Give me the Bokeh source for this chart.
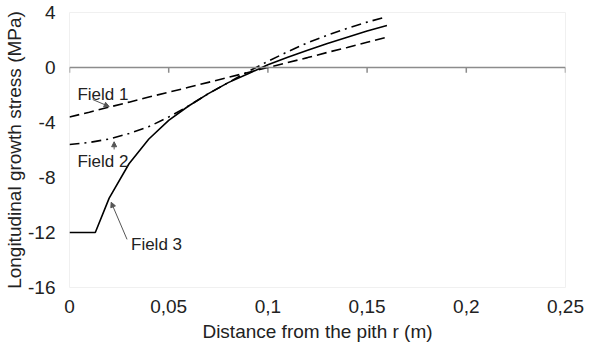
from bokeh.plotting import figure
from bokeh.models import Range1d, FixedTicker, Arrow, NormalHead, Span
from bokeh.core.properties import value
from bokeh.embed import file_html
from bokeh.resources import INLINE

# ---- data ----
r = [0.0, 0.01, 0.02, 0.03, 0.04, 0.05, 0.06, 0.07, 0.08, 0.09, 0.10, 0.11, 0.12, 0.13, 0.14, 0.15, 0.16]
field1 = [-3.6, -3.25, -2.88, -2.52, -2.15, -1.8, -1.44, -1.08, -0.72, -0.36, 0.0, 0.36, 0.72, 1.1, 1.46, 1.83, 2.2]
field2 = [-5.6, -5.45, -5.2, -4.8, -4.3, -3.6, -2.8, -1.9, -1.1, -0.3, 0.45, 1.15, 1.8, 2.35, 2.85, 3.3, 3.7]
r3 = [0.0, 0.013, 0.02, 0.03, 0.04, 0.05, 0.06, 0.07, 0.08, 0.09, 0.10, 0.11, 0.12, 0.13, 0.14, 0.15, 0.16]
field3 = [-12.0, -12.0, -9.5, -7.0, -5.2, -3.85, -2.8, -1.9, -1.1, -0.45, 0.2, 0.75, 1.25, 1.75, 2.2, 2.65, 3.05]

x_ticks = [0, 0.05, 0.1, 0.15, 0.2, 0.25]
x_tick_labels = ["0", "0,05", "0,1", "0,15", "0,2", "0,25"]
y_ticks = [4, 0, -4, -8, -12, -16]
y_tick_labels = ["4", "0", "-4", "-8", "-12", "-16"]

x_title = "Distance from the pith r (m)"
y_title = "Longitudinal growth stress (MPa)"

ann_text = ["Field 1", "Field 2", "Field 3"]
ann_x = [0.004, 0.004, 0.031]
ann_y = [-1.95, -6.8, -12.85]
arrow_x0 = [0.0117, 0.0225, 0.029]
arrow_y0 = [-2.33, -5.96, -12.5]
arrow_x1 = [0.020, 0.0225, 0.021]
arrow_y1 = [-2.84, -5.4, -9.8]

FONT = "Liberation Sans"
TXT = "#222222"

p = figure(width=584, height=344, output_backend="svg", toolbar_location=None,
           x_range=Range1d(0, 0.25), y_range=Range1d(-16, 4),
           min_border_left=69, min_border_right=19, min_border_top=12, min_border_bottom=56)
p.outline_line_color = "#f0f0f0"
p.xgrid.visible = False
p.ygrid.visible = False

for ax in (p.xaxis, p.yaxis):
    ax.axis_line_color = None
    ax.major_tick_line_color = None
    ax.minor_tick_line_color = None
    ax.major_tick_out = 0
    ax.major_tick_in = 0
    ax.minor_tick_out = 0
    ax.minor_tick_in = 0
    ax.major_label_text_font = FONT
    ax.major_label_text_font_size = "19px"
    ax.major_label_text_color = TXT
    ax.axis_label_text_font = FONT
    ax.axis_label_text_font_style = "normal"
    ax.axis_label_text_font_size = "19px"
    ax.axis_label_text_color = TXT

# x axis (labels only at bottom)
p.xaxis.ticker = FixedTicker(ticks=x_ticks)
p.xaxis.major_label_overrides = dict(zip(x_ticks, x_tick_labels))
p.xaxis.major_label_standoff = 12
p.xaxis.axis_label = x_title
p.xaxis.axis_label_standoff = 5

# y axis
p.yaxis.ticker = FixedTicker(ticks=y_ticks)
p.yaxis.major_label_overrides = dict(zip(y_ticks, y_tick_labels))
p.yaxis.major_label_standoff = 14
p.yaxis.axis_label = y_title
p.yaxis.axis_label_standoff = 0

# zero line with downward ticks
p.add_layout(Span(location=0, dimension="width", line_color="#8c8c8c", line_width=1.5))
p.segment(x0=x_ticks, y0=[0] * len(x_ticks), x1=x_ticks, y1=[-0.38] * len(x_ticks),
          line_color="#8c8c8c", line_width=1.5)

# series
p.line(r, field1, line_color="black", line_width=1.6, line_dash="10 5")
p.line(r, field2, line_color="black", line_width=1.6, line_dash="10 5 2 5")
p.line(r3, field3, line_color="black", line_width=1.6)

# annotations
for x0, y0, x1, y1 in zip(arrow_x0, arrow_y0, arrow_x1, arrow_y1):
    p.add_layout(Arrow(x_start=x0, y_start=y0, x_end=x1, y_end=y1,
                       line_color="#555555", line_width=1,
                       end=NormalHead(size=5, line_color="#555555", fill_color="#555555")))
p.text(x=ann_x, y=ann_y, text=ann_text, text_font=value(FONT), text_font_size="17px",
       text_color=TXT, text_baseline="middle", text_align="left")

open("out.html", "w").write(file_html(p, INLINE))
